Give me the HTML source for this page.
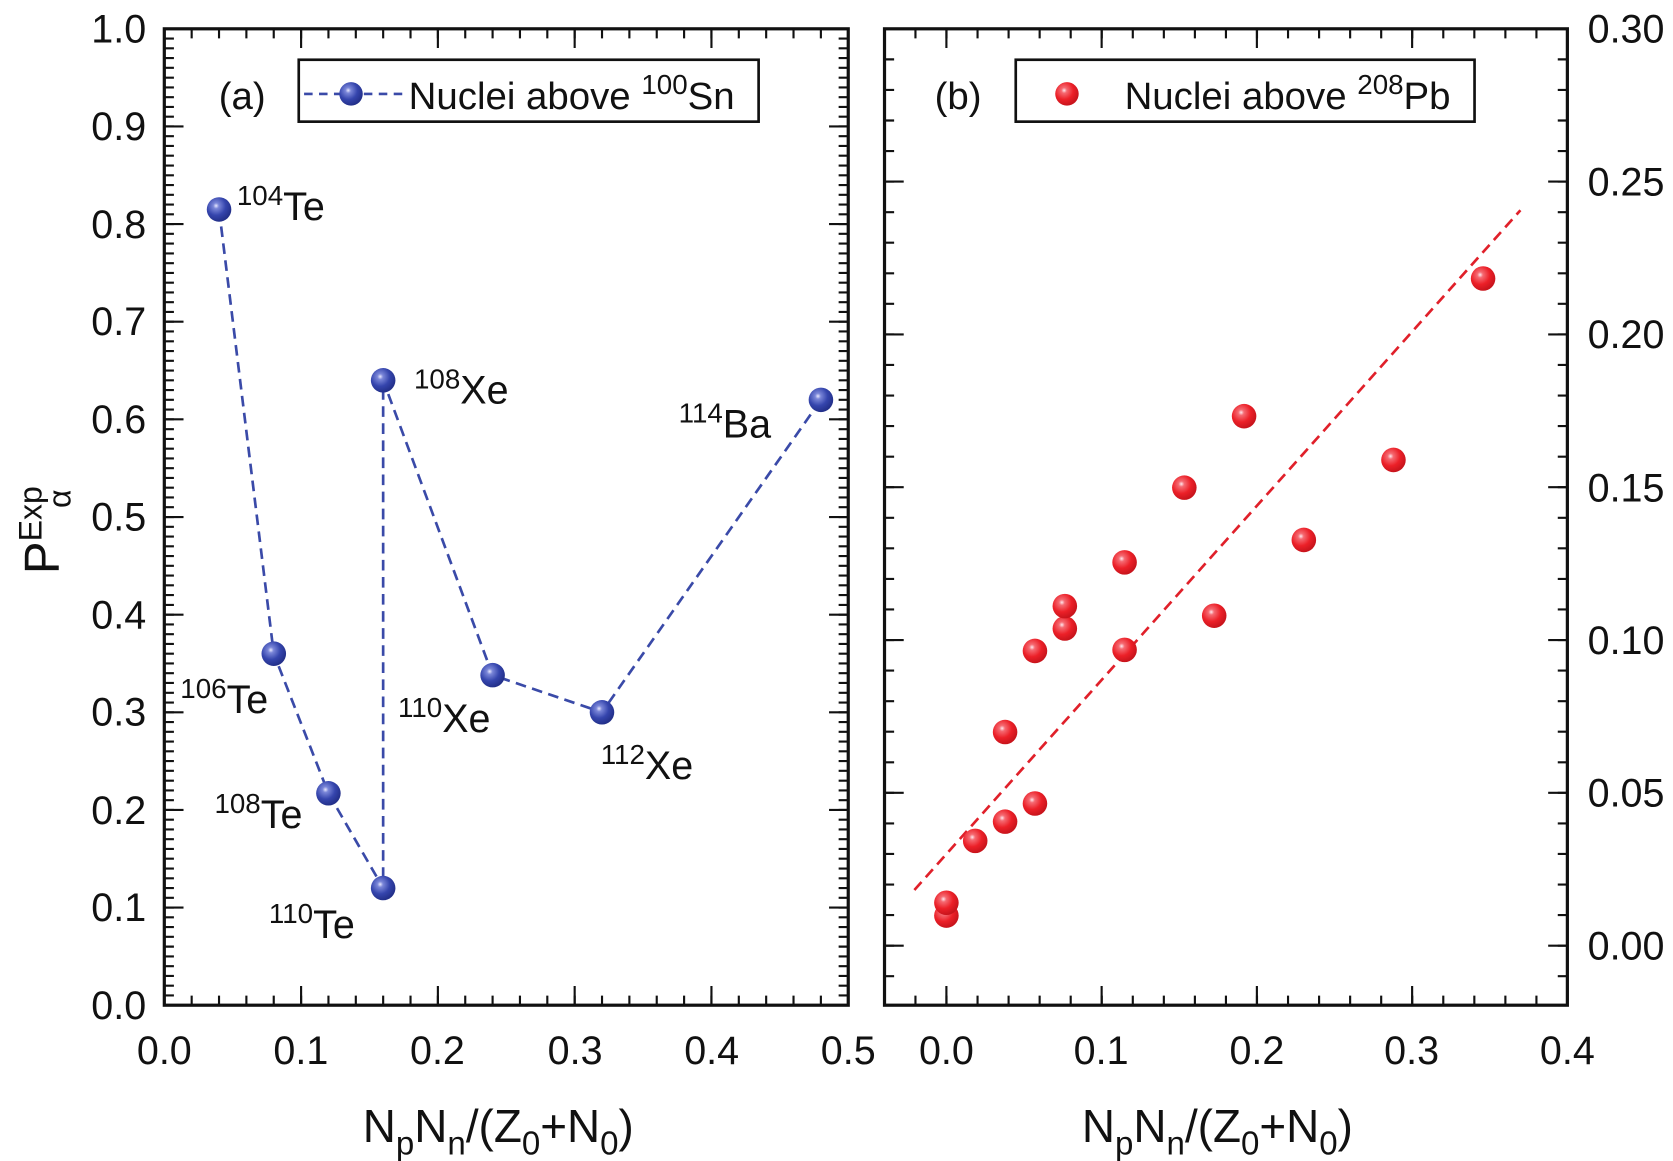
<!DOCTYPE html>
<html><head><meta charset="utf-8"><style>
html,body{margin:0;padding:0;background:#fff}
svg{display:block}
text{font-family:"Liberation Sans",Arial,sans-serif;fill:#111}
</style></head><body>
<svg width="1673" height="1161" viewBox="0 0 1568 1088" preserveAspectRatio="none" xmlns="http://www.w3.org/2000/svg">
<defs>
<radialGradient id="gb" cx="0.38" cy="0.35" r="0.65">
<stop offset="0" stop-color="#e8e8ff"/><stop offset="0.18" stop-color="#7a86d8"/><stop offset="0.6" stop-color="#3545ad"/><stop offset="1" stop-color="#23308a"/></radialGradient>
<radialGradient id="gr" cx="0.38" cy="0.35" r="0.65">
<stop offset="0" stop-color="#ffe8ee"/><stop offset="0.18" stop-color="#f56a72"/><stop offset="0.6" stop-color="#ec2028"/><stop offset="1" stop-color="#c8141c"/></radialGradient>
</defs>

<g stroke="#111" fill="none">
<rect x="154" y="27" width="641" height="915" stroke-width="3"/>
<line x1="158.5" y1="943" x2="158.5" y2="26" stroke-width="9" stroke-dasharray="2 7.15"/>
<line x1="163" y1="943" x2="163" y2="26" stroke-width="18" stroke-dasharray="2 89.5"/>
<line x1="790.5" y1="943" x2="790.5" y2="26" stroke-width="9" stroke-dasharray="2 7.15"/>
<line x1="786" y1="943" x2="786" y2="26" stroke-width="18" stroke-dasharray="2 89.5"/>
<line x1="153" y1="937.5" x2="796" y2="937.5" stroke-width="9" stroke-dasharray="2 23.64"/>
<line x1="153" y1="933" x2="796" y2="933" stroke-width="18" stroke-dasharray="2 126.2"/>
<line x1="153" y1="31.5" x2="796" y2="31.5" stroke-width="9" stroke-dasharray="2 23.64"/>
<line x1="153" y1="36" x2="796" y2="36" stroke-width="18" stroke-dasharray="2 126.2"/>
</g>

<g stroke="#111" fill="none">
<rect x="829" y="27" width="640" height="915" stroke-width="3"/>
<line x1="833.5" y1="26" x2="833.5" y2="943" stroke-width="9" stroke-dasharray="2 26.64"/>
<line x1="838" y1="26" x2="838" y2="943" stroke-width="18" stroke-dasharray="2 141.2"/>
<line x1="1464.5" y1="26" x2="1464.5" y2="943" stroke-width="9" stroke-dasharray="2 26.64"/>
<line x1="1460" y1="26" x2="1460" y2="943" stroke-width="18" stroke-dasharray="2 141.2"/>
<line x1="857" y1="937.5" x2="1470" y2="937.5" stroke-width="9" stroke-dasharray="2 27.1"/>
<line x1="886" y1="933" x2="1470" y2="933" stroke-width="18" stroke-dasharray="2 143.5"/>
<line x1="857" y1="31.5" x2="1470" y2="31.5" stroke-width="9" stroke-dasharray="2 27.1"/>
<line x1="886" y1="36" x2="1470" y2="36" stroke-width="18" stroke-dasharray="2 143.5"/>
</g>

<g font-size="37" text-anchor="end">
<text x="137" y="40">1.0</text><text x="137" y="131">0.9</text><text x="137" y="223">0.8</text>
<text x="137" y="314">0.7</text><text x="137" y="406">0.6</text><text x="137" y="497">0.5</text>
<text x="137" y="589">0.4</text><text x="137" y="680">0.3</text><text x="137" y="772">0.2</text>
<text x="137" y="863">0.1</text><text x="137" y="955">0.0</text>
</g>
<g font-size="37">
<text x="1488" y="40">0.30</text><text x="1488" y="183">0.25</text><text x="1488" y="326">0.20</text>
<text x="1488" y="470">0.15</text><text x="1488" y="613">0.10</text><text x="1488" y="756">0.05</text>
<text x="1488" y="899">0.00</text>
</g>
<g font-size="37" text-anchor="middle">
<text x="154" y="997">0.0</text><text x="282" y="997">0.1</text><text x="410" y="997">0.2</text>
<text x="539" y="997">0.3</text><text x="667" y="997">0.4</text><text x="795" y="997">0.5</text>
<text x="887" y="997">0.0</text><text x="1032" y="997">0.1</text><text x="1178" y="997">0.2</text>
<text x="1323" y="997">0.3</text><text x="1469" y="997">0.4</text>
</g>
<g font-size="43">
<text x="340" y="1070">N<tspan font-size="31" dy="12">p</tspan><tspan dy="-12">N</tspan><tspan font-size="31" dy="12">n</tspan><tspan dy="-12">/(Z</tspan><tspan font-size="31" dy="12">0</tspan><tspan dy="-12">+N</tspan><tspan font-size="31" dy="12">0</tspan><tspan dy="-12">)</tspan></text>
<text x="1014" y="1070">N<tspan font-size="31" dy="12">p</tspan><tspan dy="-12">N</tspan><tspan font-size="31" dy="12">n</tspan><tspan dy="-12">/(Z</tspan><tspan font-size="31" dy="12">0</tspan><tspan dy="-12">+N</tspan><tspan font-size="31" dy="12">0</tspan><tspan dy="-12">)</tspan></text>
</g>
<text transform="translate(55,538) rotate(-90)" font-size="46">P<tspan font-size="30" dy="-16">Exp</tspan></text>
<text transform="translate(66,476) rotate(-90)" font-size="30">α</text>

<rect x="280" y="56" width="431" height="58" fill="none" stroke="#111" stroke-width="2.5"/>
<line x1="285" y1="88" x2="378" y2="88" stroke="#3a4aa8" stroke-width="2.5" stroke-dasharray="8 6"/>
<circle cx="329" cy="88" r="11" fill="url(#gb)"/>
<text x="383" y="102" font-size="36">Nuclei above <tspan font-size="26" dy="-14">100</tspan><tspan dy="14">Sn</tspan></text>
<text x="205" y="102" font-size="36">(a)</text>

<rect x="952" y="56" width="430" height="58" fill="none" stroke="#111" stroke-width="2.5"/>
<circle cx="1000" cy="88" r="11" fill="url(#gr)"/>
<text x="1054" y="102" font-size="36">Nuclei above <tspan font-size="26" dy="-14">208</tspan><tspan dy="14">Pb</tspan></text>
<text x="876" y="102" font-size="36">(b)</text>

<polyline fill="none" stroke="#3a4aa8" stroke-width="2.5" stroke-dasharray="10 6"
 points="205.3,196.3 256.6,612.6 307.8,743.4 359.1,832.2 359.1,356.4 461.7,632.7 564.2,667.5 769.4,374.7"/>
<g fill="url(#gb)">
<circle cx="205.3" cy="196.3" r="11.5"/><circle cx="256.6" cy="612.6" r="11.5"/>
<circle cx="307.8" cy="743.4" r="11.5"/><circle cx="359.1" cy="832.2" r="11.5"/>
<circle cx="359.1" cy="356.4" r="11.5"/><circle cx="461.7" cy="632.7" r="11.5"/>
<circle cx="564.2" cy="667.5" r="11.5"/><circle cx="769.4" cy="374.7" r="11.5"/>
</g>
<g font-size="37">
<text x="222" y="206"><tspan font-size="26" dy="-14">104</tspan><tspan dy="14">Te</tspan></text>
<text x="388" y="378"><tspan font-size="26" dy="-14">108</tspan><tspan dy="14">Xe</tspan></text>
<text x="636" y="410"><tspan font-size="26" dy="-14">114</tspan><tspan dy="14">Ba</tspan></text>
<text x="169" y="668"><tspan font-size="26" dy="-14">106</tspan><tspan dy="14">Te</tspan></text>
<text x="373" y="686"><tspan font-size="26" dy="-14">110</tspan><tspan dy="14">Xe</tspan></text>
<text x="201" y="776"><tspan font-size="26" dy="-14">108</tspan><tspan dy="14">Te</tspan></text>
<text x="563" y="730"><tspan font-size="26" dy="-14">112</tspan><tspan dy="14">Xe</tspan></text>
<text x="252" y="879"><tspan font-size="26" dy="-14">110</tspan><tspan dy="14">Te</tspan></text>
</g>

<line x1="857" y1="834" x2="1425" y2="197" stroke="#e0202a" stroke-width="2.5" stroke-dasharray="10 6"/>
<g fill="url(#gr)">
<circle cx="887" cy="858" r="11.5"/><circle cx="887" cy="846" r="11.5"/>
<circle cx="914" cy="788" r="11.5"/><circle cx="942" cy="770" r="11.5"/>
<circle cx="970" cy="753" r="11.5"/><circle cx="942" cy="686" r="11.5"/>
<circle cx="970" cy="610" r="11.5"/><circle cx="998" cy="589" r="11.5"/>
<circle cx="998" cy="568" r="11.5"/><circle cx="1054" cy="609" r="11.5"/>
<circle cx="1054" cy="527" r="11.5"/><circle cx="1110" cy="457" r="11.5"/>
<circle cx="1138" cy="577" r="11.5"/><circle cx="1166" cy="390" r="11.5"/>
<circle cx="1222" cy="506" r="11.5"/><circle cx="1306" cy="431" r="11.5"/>
<circle cx="1390" cy="261" r="11.5"/>
</g>
</svg>
</body></html>
